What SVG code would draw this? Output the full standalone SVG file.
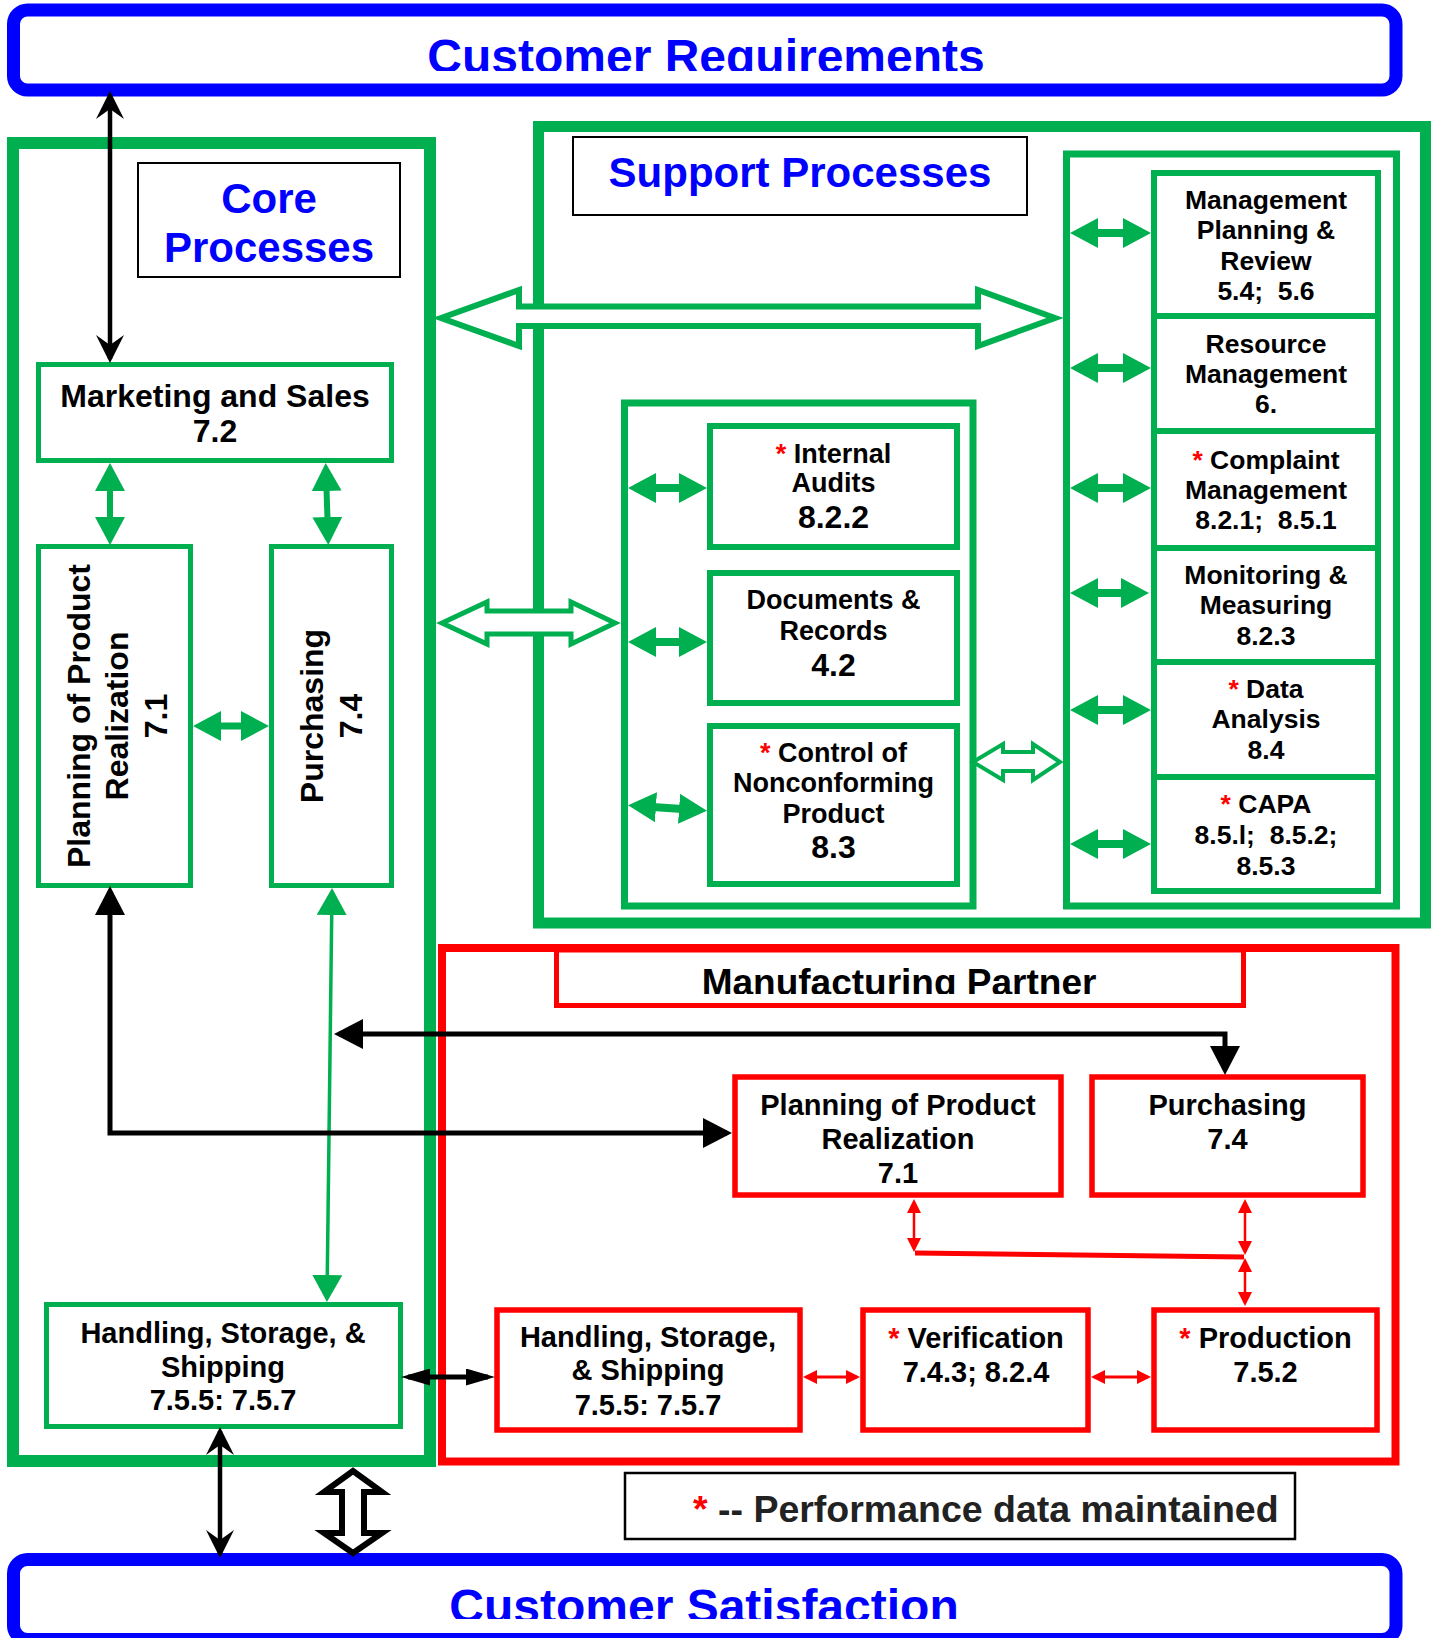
<svg xmlns="http://www.w3.org/2000/svg" width="1435" height="1638" viewBox="0 0 1435 1638">
<style>
.t{font-family:'Liberation Sans',Arial,Helvetica,sans-serif;font-weight:bold;text-anchor:middle;fill:#000}
.ast{fill:#FF0000}
.blue{fill:#0000FF}
.gb{fill:#fff;stroke:#00B050}
.rb{fill:#fff;stroke:#FF0000}
.kb{fill:#fff;stroke:#000}
.bb{fill:#fff;stroke:#0000FF;stroke-width:13}
.s26{font-size:26.5px}.s27{font-size:27px}.s29{font-size:29px}.s30{font-size:32px}.s31{font-size:32px}.s32{font-size:32px}
.ga{stroke:#00B050;fill:none;marker-start:url(#gH);marker-end:url(#gH)}
.hollowG{fill:#fff;stroke:#00B050;stroke-linejoin:miter}
</style>
<defs>
<marker id="gH" markerUnits="userSpaceOnUse" viewBox="0 0 28 30" markerWidth="28" markerHeight="30" refX="18" refY="15" orient="auto-start-reverse"><path d="M0,0 L28,15 L0,30 z" fill="#00B050"/></marker>
<marker id="gT" markerUnits="userSpaceOnUse" viewBox="0 0 27 30" markerWidth="27" markerHeight="30" refX="23" refY="15" orient="auto-start-reverse"><path d="M0,0 L27,15 L0,30 z" fill="#00B050"/></marker>
<marker id="kS" markerUnits="userSpaceOnUse" viewBox="0 0 28 28" markerWidth="28" markerHeight="28" refX="24" refY="14" orient="auto-start-reverse"><path d="M0,0 L28,14 L0,28 L10,14 z" fill="#000"/></marker>
<marker id="kF" markerUnits="userSpaceOnUse" viewBox="0 0 29 30" markerWidth="29" markerHeight="30" refX="24" refY="15" orient="auto-start-reverse"><path d="M0,0 L29,15 L0,30 z" fill="#000"/></marker>
<marker id="kM" markerUnits="userSpaceOnUse" viewBox="0 0 29 17" markerWidth="29" markerHeight="17" refX="22" refY="8.5" orient="auto-start-reverse"><path d="M0,0 L29,8.5 L0,17 z" fill="#000"/></marker>
<marker id="rS" markerUnits="userSpaceOnUse" viewBox="0 0 14 14" markerWidth="14" markerHeight="14" refX="11" refY="7" orient="auto-start-reverse"><path d="M0,0 L14,7 L0,14 z" fill="#FF0000"/></marker>
<clipPath id="clipTop"><rect x="0" y="0" width="1435" height="71"/></clipPath>
<clipPath id="clipBot"><rect x="0" y="1560" width="1435" height="59"/></clipPath>
<clipPath id="clipMP"><rect x="560" y="950" width="680" height="44"/></clipPath>
</defs>
<rect x="0" y="0" width="1435" height="1638" fill="#fff"/>

<!-- containers -->
<g id="customer-requirements">
<rect class="bb" x="13.5" y="10" width="1382.5" height="80" rx="14"/>
<text class="t blue" x="706" y="73" font-size="48" clip-path="url(#clipTop)">Customer Requirements</text>
</g>
<g id="customer-satisfaction">
<rect class="bb" x="13.5" y="1559.5" width="1382.5" height="80" rx="14"/>
<text class="t blue" x="704" y="1623" font-size="48" clip-path="url(#clipBot)">Customer Satisfaction</text>
</g>
<g id="core-processes">
<rect class="gb" x="13" y="143" width="417" height="1318" stroke-width="12"/>
<rect class="kb" x="138" y="163" width="262" height="114" stroke-width="2"/>
<text class="t blue" x="269" y="213" font-size="42">Core</text>
<text class="t blue" x="269" y="262" font-size="42">Processes</text>
</g>
<g id="support-processes">
<rect class="gb" x="538.5" y="126.5" width="887" height="796.5" stroke-width="11"/>
<rect class="kb" x="573" y="137" width="454" height="78" stroke-width="2"/>
<text class="t blue" x="800" y="187" font-size="42">Support Processes</text>
<rect class="gb" x="1066.5" y="154" width="330" height="752" stroke-width="7"/>
<rect class="gb" x="624.5" y="403" width="348.5" height="503" stroke-width="7"/>
</g>
<g id="manufacturing-partner">
<rect class="rb" x="442" y="948" width="953.5" height="513.5" stroke-width="8"/>
<rect class="rb" x="556.5" y="950" width="687" height="55.5" stroke-width="5"/>
<text class="t" x="899" y="995" font-size="37" clip-path="url(#clipMP)">Manufacturing Partner</text>
</g>

<!-- core nodes -->
<g id="marketing-sales">
<rect class="gb" x="38.5" y="364.5" width="353" height="96" stroke-width="5"/>
<text class="t s31" x="215" y="407">Marketing and Sales</text>
<text class="t s31" x="215" y="442">7.2</text>
</g>
<g id="core-planning">
<rect class="gb" x="38.5" y="546.5" width="152" height="339" stroke-width="5"/>
<text class="t s32" transform="translate(0,716) rotate(-90)"><tspan x="0" y="90">Planning of Product</tspan><tspan x="0" y="128">Realization</tspan><tspan x="0" y="167">7.1</tspan></text>
</g>
<g id="core-purchasing">
<rect class="gb" x="271.5" y="546.5" width="120" height="339" stroke-width="5"/>
<text class="t s32" transform="translate(0,716) rotate(-90)"><tspan x="0" y="323">Purchasing</tspan><tspan x="0" y="362">7.4</tspan></text>
</g>
<g id="core-hss">
<rect class="gb" x="46.5" y="1304.5" width="354" height="122" stroke-width="5"/>
<text class="t s29" x="223" y="1343">Handling, Storage, &amp;</text>
<text class="t s29" x="223" y="1377">Shipping</text>
<text class="t s29" x="223" y="1410">7.5.5: 7.5.7</text>
</g>

<!-- support nodes (middle) -->
<g id="internal-audits">
<rect class="gb" x="710" y="426" width="247" height="121" stroke-width="6"/>
<text class="t s27" x="833.5" y="463"><tspan class="ast">*</tspan> Internal</text>
<text class="t s27" x="833.5" y="492">Audits</text>
<text class="t s30" x="833.5" y="528">8.2.2</text>
</g>
<g id="documents-records">
<rect class="gb" x="710" y="573" width="247" height="130" stroke-width="6"/>
<text class="t s27" x="833.5" y="609">Documents &amp;</text>
<text class="t s27" x="833.5" y="640">Records</text>
<text class="t s30" x="833.5" y="676">4.2</text>
</g>
<g id="control-nonconforming">
<rect class="gb" x="710" y="726" width="247" height="158" stroke-width="6"/>
<text class="t s27" x="833.5" y="762"><tspan class="ast">*</tspan> Control of</text>
<text class="t s27" x="833.5" y="792">Nonconforming</text>
<text class="t s27" x="833.5" y="823">Product</text>
<text class="t s30" x="833.5" y="858">8.3</text>
</g>

<!-- support nodes (right) -->
<g id="management-review">
<rect class="gb" x="1154" y="173" width="224" height="143" stroke-width="6"/>
<text class="t s26" x="1266" y="209">Management</text>
<text class="t s26" x="1266" y="239">Planning &amp;</text>
<text class="t s26" x="1266" y="270">Review</text>
<text class="t s26" x="1266" y="300">5.4;&#160; 5.6</text>
</g>
<g id="resource-management">
<rect class="gb" x="1154" y="316" width="224" height="115" stroke-width="6"/>
<text class="t s26" x="1266" y="353">Resource</text>
<text class="t s26" x="1266" y="383">Management</text>
<text class="t s26" x="1266" y="413">6.</text>
</g>
<g id="complaint-management">
<rect class="gb" x="1154" y="431" width="224" height="117" stroke-width="6"/>
<text class="t s26" x="1266" y="469"><tspan class="ast">*</tspan> Complaint</text>
<text class="t s26" x="1266" y="499">Management</text>
<text class="t s26" x="1266" y="529">8.2.1;&#160; 8.5.1</text>
</g>
<g id="monitoring-measuring">
<rect class="gb" x="1154" y="548" width="224" height="114" stroke-width="6"/>
<text class="t s26" x="1266" y="584">Monitoring &amp;</text>
<text class="t s26" x="1266" y="614">Measuring</text>
<text class="t s26" x="1266" y="645">8.2.3</text>
</g>
<g id="data-analysis">
<rect class="gb" x="1154" y="662" width="224" height="115" stroke-width="6"/>
<text class="t s26" x="1266" y="698"><tspan class="ast">*</tspan> Data</text>
<text class="t s26" x="1266" y="728">Analysis</text>
<text class="t s26" x="1266" y="759">8.4</text>
</g>
<g id="capa">
<rect class="gb" x="1154" y="777" width="224" height="114" stroke-width="6"/>
<text class="t s26" x="1266" y="813"><tspan class="ast">*</tspan> CAPA</text>
<text class="t s26" x="1266" y="844">8.5.l;&#160; 8.5.2;</text>
<text class="t s26" x="1266" y="875">8.5.3</text>
</g>

<!-- manufacturing partner nodes -->
<g id="mp-planning">
<rect class="rb" x="735" y="1077" width="326" height="118" stroke-width="5.5"/>
<text class="t s29" x="898" y="1115">Planning of Product</text>
<text class="t s29" x="898" y="1149">Realization</text>
<text class="t s29" x="898" y="1183">7.1</text>
</g>
<g id="mp-purchasing">
<rect class="rb" x="1092" y="1077" width="271" height="118" stroke-width="5.5"/>
<text class="t s29" x="1227.5" y="1115">Purchasing</text>
<text class="t s29" x="1227.5" y="1149">7.4</text>
</g>
<g id="mp-hss">
<rect class="rb" x="497" y="1310" width="303" height="120" stroke-width="5.5"/>
<text class="t s29" x="648" y="1347">Handling, Storage,</text>
<text class="t s29" x="648" y="1380">&amp; Shipping</text>
<text class="t s29" x="648" y="1415">7.5.5: 7.5.7</text>
</g>
<g id="verification">
<rect class="rb" x="863" y="1310" width="225" height="120" stroke-width="5.5"/>
<text class="t s29" x="976" y="1348"><tspan class="ast">*</tspan> Verification</text>
<text class="t s29" x="976" y="1382">7.4.3; 8.2.4</text>
</g>
<g id="production">
<rect class="rb" x="1154" y="1310" width="223" height="120" stroke-width="5.5"/>
<text class="t s29" x="1265.5" y="1348"><tspan class="ast">*</tspan> Production</text>
<text class="t s29" x="1265.5" y="1382">7.5.2</text>
</g>

<g id="legend">
<rect class="kb" x="625" y="1473" width="670" height="66" stroke-width="2.5"/>
<text x="693" y="1522" font-family="'Liberation Sans',Arial,sans-serif" font-weight="bold" font-size="37.5" fill="#222"><tspan fill="#FF0000">*</tspan> -- Performance data maintained</text>
</g>

<!-- connectors -->
<g id="connectors">
<!-- big hollow green arrows -->
<polygon class="hollowG" stroke-width="6" points="441,318 519,290 519,306.5 978,306.5 978,290 1055,318 978,346 978,326 519,326 519,346"/>
<polygon class="hollowG" stroke-width="5" points="442,623 487,602 487,611 571,611 571,602 615,623 571,644 571,634 487,634 487,644"/>
<polygon class="hollowG" stroke-width="4" points="973,762 1003,744 1003,752 1033,752 1033,744 1060,762 1033,780 1033,771 1003,771 1003,780"/>

<!-- green solid double arrows -->
<line class="ga" stroke-width="6" x1="110" y1="473" x2="110" y2="535"/>
<line class="ga" stroke-width="6" x1="326" y1="473" x2="328" y2="535"/>
<line class="ga" stroke-width="7" x1="203" y1="726" x2="259" y2="726"/>
<line class="ga" stroke-width="8" x1="638" y1="488" x2="697" y2="488"/>
<line class="ga" stroke-width="8" x1="638" y1="642" x2="697" y2="642"/>
<line class="ga" stroke-width="8" x1="638" y1="806" x2="697" y2="810"/>
<line class="ga" stroke-width="8" x1="1080" y1="233" x2="1141" y2="233"/>
<line class="ga" stroke-width="8" x1="1080" y1="368" x2="1141" y2="368"/>
<line class="ga" stroke-width="8" x1="1080" y1="488" x2="1141" y2="488"/>
<line class="ga" stroke-width="8" x1="1080" y1="593" x2="1139" y2="593"/>
<line class="ga" stroke-width="8" x1="1080" y1="710" x2="1141" y2="710"/>
<line class="ga" stroke-width="8" x1="1080" y1="844" x2="1141" y2="844"/>

<!-- green thin arrow purchasing to HSS -->
<line x1="332" y1="892" x2="327" y2="1298" stroke="#00B050" stroke-width="3.5" marker-start="url(#gT)" marker-end="url(#gT)"/>

<!-- black arrows -->
<line x1="110" y1="95" x2="110" y2="359" stroke="#000" stroke-width="4.5" marker-start="url(#kS)" marker-end="url(#kS)"/>
<path d="M110,891 V1133 H727" fill="none" stroke="#000" stroke-width="5" marker-start="url(#kF)" marker-end="url(#kF)"/>
<path d="M339,1034 H1225 V1070" fill="none" stroke="#000" stroke-width="5" marker-start="url(#kF)" marker-end="url(#kF)"/>
<line x1="408" y1="1377" x2="488" y2="1377" stroke="#000" stroke-width="5" marker-start="url(#kM)" marker-end="url(#kM)"/>
<line x1="220" y1="1431" x2="220" y2="1554" stroke="#000" stroke-width="4.5" marker-start="url(#kS)" marker-end="url(#kS)"/>
<polygon points="353,1471 324,1492 342,1492 342,1533 324,1533 353,1553 382,1533 364,1533 364,1492 382,1492" fill="#fff" stroke="#000" stroke-width="6"/>

<!-- red connectors -->
<line x1="914" y1="1202" x2="914" y2="1249" stroke="#FF0000" stroke-width="2.5" marker-start="url(#rS)" marker-end="url(#rS)"/>
<line x1="1245" y1="1202" x2="1245" y2="1252" stroke="#FF0000" stroke-width="2.5" marker-start="url(#rS)" marker-end="url(#rS)"/>
<line x1="1245" y1="1261" x2="1245" y2="1303" stroke="#FF0000" stroke-width="2.5" marker-start="url(#rS)" marker-end="url(#rS)"/>
<line x1="915" y1="1253" x2="1244" y2="1257" stroke="#FF0000" stroke-width="5"/>
<line x1="806" y1="1377" x2="857" y2="1377" stroke="#FF0000" stroke-width="3" marker-start="url(#rS)" marker-end="url(#rS)"/>
<line x1="1094" y1="1377" x2="1148" y2="1377" stroke="#FF0000" stroke-width="3" marker-start="url(#rS)" marker-end="url(#rS)"/>
</g>
</svg>
